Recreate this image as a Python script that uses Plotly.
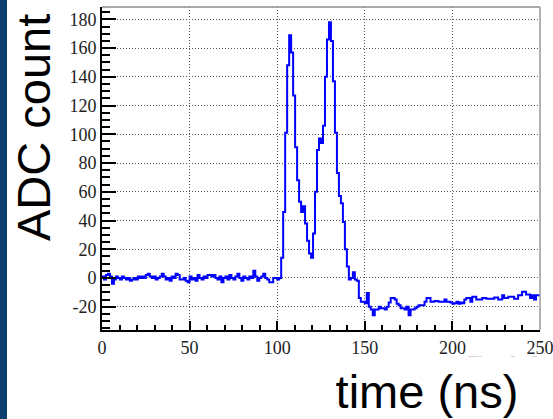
import numpy as np
import plotly.graph_objects as go

# ADC samples per time bin (220 bins spanning 0-250 ns)
adc_counts = [
    # baseline 0 - ~102 ns
    1, -1, 2, 3, 1, -4, -1, 1, 0, -1,
    1, 0, -1, 0, -2, -1, 0, -1, 1, 0,
    1, 0, 2, 3, 1, 0, 1, -1, 0, 1,
    3, 1, -1, 0, -2, 1, 0, 3, 2, -1,
    -1, 0, -2, -3, 1, -1, 0, -2, 2, 0,
    -1, 1, 0, 2, 2, 1, 2, 0, -1, 1,
    -3, 0, 1, -1, 2, 0, -1, 1, 3, 0,
    -2, 1, 0, -1, 1, 0, 5, 1, -2, 0,
    1, 3, 0, -1, -3, -3, 0, 0, -1, 0,
    # double pulse
    14, 46, 101, 148, 169, 157, 127, 91, 68, 53,
    46, 50, 38, 26, 17, 14, 31, 60, 89, 97,
    94, 106, 140, 166, 178, 165, 137, 101, 73, 57,
    52, 39, 20, 8, -1, 0, 4, -1, -2,
    # undershoot tail
    -14, -16.5, -16.5, -17.5, -10.5, -20, -22, -26, -22, -22,
    -20, -21, -21, -22, -20, -17, -14, -14, -15, -18,
    -19, -21, -21, -22, -20, -26, -22, -22, -21, -20,
    -19, -19, -19, -16.5, -14, -14, -16.5, -16.5, -16, -16,
    -16.5, -16.5, -16.5, -15, -16.5, -16.5, -17, -18, -17.5, -16.5,
    -18, -17, -17.5, -15, -14, -14, -16.5, -13, -13, -15,
    -15, -15, -14, -14, -14.5, -14.5, -14.5, -14.5, -13.5, -13.5,
    -15, -15, -12, -14, -14, -13, -13, -13, -14.5, -14.5,
    -12, -12, -9.5, -9.5, -11.5, -11.5, -14, -12, -15, -12, -12,
]
time_range = [0, 250]
y_range = [-36.2, 188.6]
x_tick_vals = [0, 50, 100, 150, 200, 250]
x_tick_text = ["0", "50", "100", "150", "200", "250"]
y_tick_vals = [-20, 0, 20, 40, 60, 80, 100, 120, 140, 160, 180]
y_tick_text = ["-20", "0", "20", "40", "60", "80", "100", "120", "140", "160", "180"]
x_title = "time (ns)"
y_title = "ADC count"
old_x_title = "Time [ns]"

edges = np.linspace(time_range[0], time_range[1], len(adc_counts) + 1)
xs = list(edges[:-1]) + [edges[-1]]
ys = list(adc_counts) + [adc_counts[-1]]

W, H = 553, 419
L, R, T, B = 102, 13, 7, 89
pw, ph = W - L - R, H - T - B

def px_x(p):
    return (p - L) / pw

def px_y(p):
    return (H - B - p) / ph

fig = go.Figure()
fig.add_trace(go.Scatter(x=xs, y=ys, mode="lines",
                         line=dict(color="#0000ff", width=2, shape="hv"),
                         hoverinfo="skip"))

tickfont = dict(family="Liberation Serif", size=18, color="#222222")
grid_dash = "1px,2px"

fig.update_layout(
    template="none",
    width=W, height=H,
    margin=dict(l=L, r=R, t=T, b=B, pad=0),
    paper_bgcolor="white", plot_bgcolor="white",
    showlegend=False,
    xaxis=dict(range=time_range, tickvals=x_tick_vals, ticktext=x_tick_text,
               ticks="inside", ticklen=9, tickwidth=1.5, tickcolor="black",
               showline=True, linecolor="black", linewidth=2,
               showgrid=True, gridcolor="#555555", griddash=grid_dash, gridwidth=1,
               zeroline=False, automargin=False, tickfont=tickfont,
               ticklabeloverflow="allow",
               minor=dict(tick0=0, dtick=10, ticks="inside", ticklen=5,
                          tickwidth=1.5, tickcolor="black", showgrid=False)),
    yaxis=dict(range=y_range, tickvals=y_tick_vals, ticktext=y_tick_text,
               ticks="inside", ticklen=14, tickwidth=1.5, tickcolor="black",
               showline=True, linecolor="black", linewidth=2,
               showgrid=True, gridcolor="#555555", griddash=grid_dash, gridwidth=1,
               zeroline=False, automargin=False, tickfont=tickfont,
               ticklabeloverflow="allow",
               minor=dict(tick0=0, dtick=5, ticks="inside", ticklen=8,
                          tickwidth=1.5, tickcolor="black", showgrid=False)),
    shapes=[
        dict(type="rect", xref="paper", yref="paper",
             x0=px_x(0), x1=px_x(7), y0=px_y(H), y1=px_y(0),
             fillcolor="#0b3f6e", line=dict(width=0), layer="above"),
        dict(type="line", xref="paper", yref="paper", x0=0, x1=1, y0=1, y1=1,
             line=dict(color="#8c8c8c", width=1.5)),
        dict(type="line", xref="paper", yref="paper", x0=1, x1=1, y0=0, y1=1,
             line=dict(color="#9a9a9a", width=1.5)),
    ],
    annotations=[
        dict(text=y_title, textangle=-90, xref="paper", yref="paper",
             x=px_x(33.5), y=px_y(127.5), xanchor="center", yanchor="middle",
             showarrow=False,
             font=dict(family="Liberation Sans", size=47, color="black")),
        dict(text=old_x_title, xref="paper", yref="paper",
             x=px_x(540), y=px_y(351), xanchor="right", yanchor="top",
             showarrow=False,
             font=dict(family="Liberation Serif", size=18, color="#9a9a9a")),
        dict(text=x_title, xref="paper", yref="paper",
             x=px_x(427), y=px_y(391.7), xanchor="center", yanchor="middle",
             width=228, height=69, borderpad=0, bgcolor="white",
             align="center", valign="middle", showarrow=False,
             font=dict(family="Liberation Sans", size=47, color="black")),
    ],
)

fig.write_html("out.html", include_plotlyjs=True, full_html=True,
               config={"displayModeBar": False},
               post_script="document.body.style.margin='0';")
